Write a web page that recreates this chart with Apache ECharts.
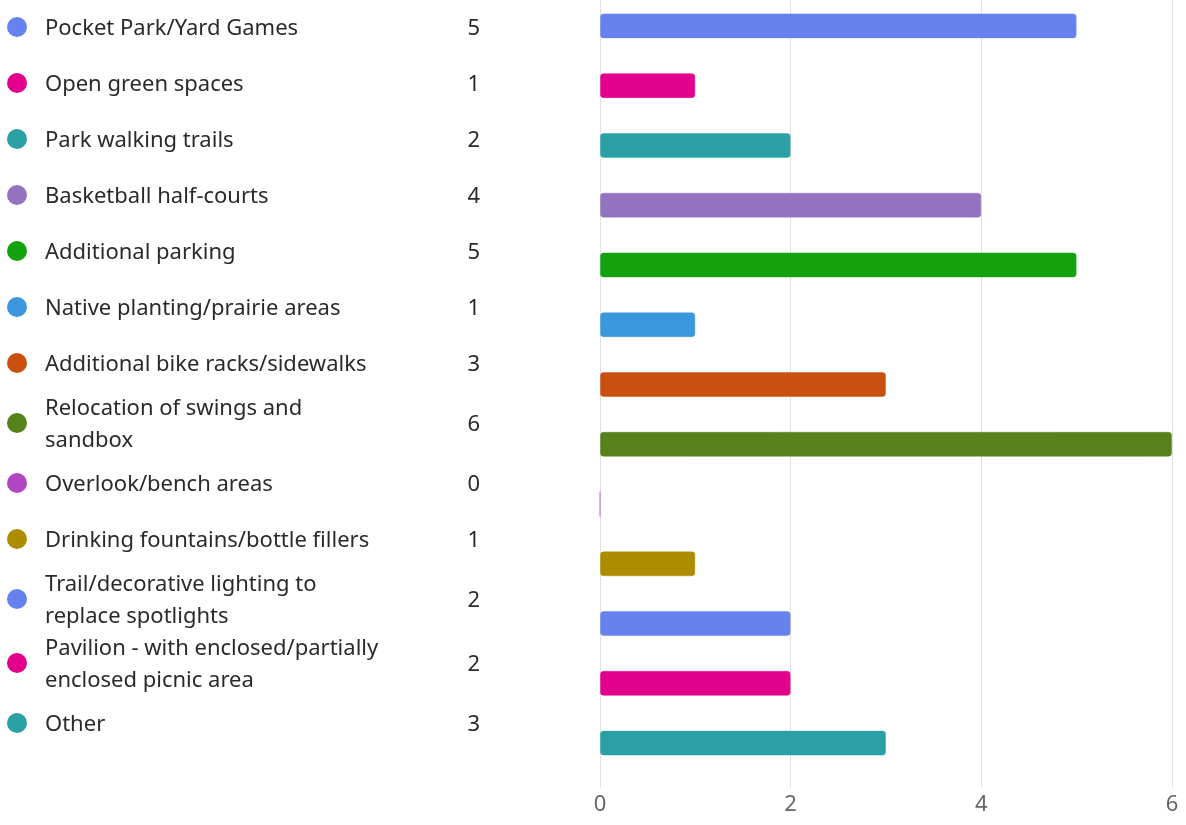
<!DOCTYPE html>
<html>
<head>
<meta charset="utf-8">
<script src="https://cdn.jsdelivr.net/npm/echarts@6/dist/echarts.min.js"></script>
<style>
html,body{margin:0;padding:0;background:#fff;overflow:hidden;}
#c{width:1186px;height:829px;position:relative;top:-4px;}
</style>
</head>
<body>
<div id="c"></div>
<script>
const categories = [
  'Pocket Park/Yard Games',
  'Open green spaces',
  'Park walking trails',
  'Basketball half-courts',
  'Additional parking',
  'Native planting/prairie areas',
  'Additional bike racks/sidewalks',
  'Relocation of swings and sandbox',
  'Overlook/bench areas',
  'Drinking fountains/bottle fillers',
  'Trail/decorative lighting to replace spotlights',
  'Pavilion - with enclosed/partially enclosed picnic area',
  'Other'
];
const values = [5, 1, 2, 4, 5, 1, 3, 6, 0, 1, 2, 2, 3];
const colors = ['#6682EE', '#E3008C', '#2AA0A4', '#9373C0', '#13A10E', '#3A96DD', '#CA5010', '#57811B', '#B146C2', '#AE8C00', '#6682EE', '#E3008C', '#2AA0A4'];
const xTicks = [0, 2, 4, 6];

const FONT_SIZE = 22;
const FONT = FONT_SIZE + 'px "Noto Sans", "Open Sans", sans-serif';
const WRAP_WIDTH = 350;
const OFFSET = 4; // container is shifted up by this many px

const cv = document.createElement('canvas').getContext('2d');
cv.font = FONT;
function wrap(text) {
  const words = text.split(' ');
  const lines = [];
  let cur = '';
  words.forEach(w => {
    const t = cur ? cur + ' ' + w : w;
    if (cur && cv.measureText(t).width > WRAP_WIDTH) { lines.push(cur); cur = w; }
    else cur = t;
  });
  if (cur) lines.push(cur);
  return lines;
}

const graphics = [];
let yTop = -1 + OFFSET;
categories.forEach((name, i) => {
  const lines = wrap(name);
  const h = Math.max(56, 32 * lines.length);
  const cy = yTop + h / 2;
  yTop += h;
  graphics.push({ type: 'circle', shape: { cx: 17, cy: cy, r: 10 }, style: { fill: colors[i] } });
  graphics.push({ type: 'text', style: { text: lines.join('\n'), x: 45, y: cy + 1.5, font: FONT, fill: '#2b2a29', align: 'left', verticalAlign: 'middle', lineHeight: 32 } });
  graphics.push({ type: 'text', style: { text: String(values[i]), x: 480, y: cy + 1.5, font: FONT, fill: '#2b2a29', align: 'right', verticalAlign: 'middle' } });
});

const chart = echarts.init(document.getElementById('c'));
chart.setOption({
  animation: false,
  grid: { left: 600, right: 14, top: 0, bottom: 52, containLabel: false },
  xAxis: {
    type: 'value', min: 0, max: 6, interval: 2,
    axisLine: { show: false },
    axisTick: { show: true, length: 15, lineStyle: { color: '#e1e1e1', width: 1 } },
    splitLine: { show: true, lineStyle: { color: '#e1e1e1', width: 1 } },
    axisLabel: { color: '#666', fontSize: 22, margin: 21, fontFamily: '"Noto Sans", sans-serif',
      formatter: v => xTicks.indexOf(v) >= 0 ? String(v) : '' }
  },
  yAxis: {
    type: 'category', data: categories, inverse: true, show: false
  },
  series: [{
    type: 'bar',
    barWidth: 25,
    data: values.map((v, i) => ({
      value: v,
      itemStyle: { color: colors[i], borderColor: echarts.color.modifyAlpha(colors[i], 0.45), borderWidth: 1, borderRadius: 3 }
    }))
  }],
  graphic: graphics
});
</script>
</body>
</html>
